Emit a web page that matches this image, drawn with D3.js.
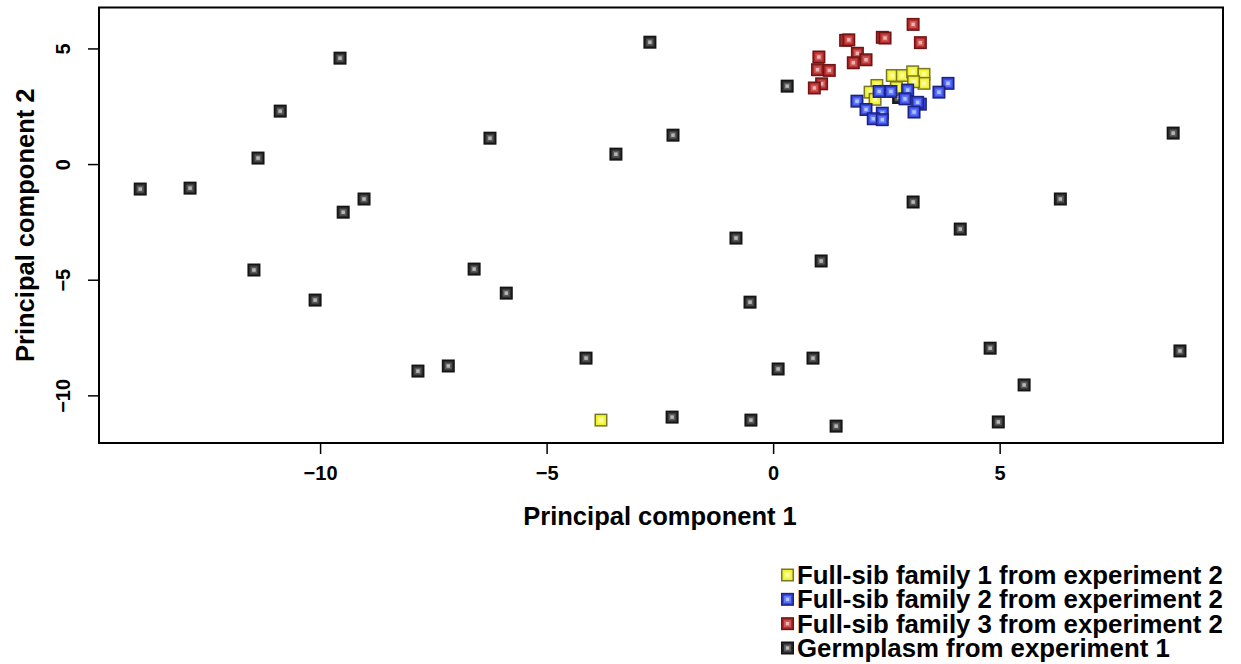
<!DOCTYPE html>
<html lang="en">
<head>
	<meta charset="UTF-8">
	<title>PCA scatter</title>
	<script src="https://cdn.jsdelivr.net/npm/d3@7"></script>
	<style>
		body { margin: 0; background: #fff; }
		text { font-family: "Liberation Sans", Arial, sans-serif; font-weight: bold; fill: #000; }
		.axis path { display: none; }
		.axis line { stroke: #000; stroke-width: 1.5; }
	</style>
</head>
<body>
	<div id="container"></div>
	<script>
		// germplasm from experiment 1
		var germPC1 = [-13.97, -12.87, -11.37, -10.88, -11.46, -10.11, -9.56, -9.49, -9.03, -7.84, -7.17, -6.60,
			-6.25, -5.89, -4.13, -3.47, -2.72, -2.21, -2.23, -0.82, -0.51, -0.49, 0.11, 0.31, 0.88, 1.06, 1.39,
			3.09, 4.13, 4.79, 4.97, 5.54, 6.34, 8.83, 8.98, 2.77];
		var germPC2 = [-1.08, -1.04, 0.26, 2.29, -4.58, -5.88, 4.58, -2.08, -1.51, -8.95, -8.73, -4.54,
			1.12, -5.58, -8.39, 0.43, 5.27, 1.25, -10.94, -3.20, -5.97, -11.07, -8.86, 3.37, -8.39, -4.19, -11.33,
			-1.64, -2.81, -7.96, -11.15, -9.55, -1.51, 1.34, -8.08, 2.88];

		// full-sib families from experiment 2
		var fam1PC1 = [-3.80, 2.63, 2.85, 3.08, 3.33, 3.33, 3.10, 2.29, 2.72, 2.14, 2.25];
		var fam1PC2 = [-11.07, 3.83, 3.83, 3.99, 3.88, 3.49, 3.56, 3.40, 3.31, 3.11, 2.80];

		var fam2PC1 = [3.86, 3.66, 2.34, 2.60, 2.97, 2.91, 3.25, 3.19, 1.85, 2.05, 2.41, 2.21, 2.41, 3.11];
		var fam2PC2 = [3.49, 3.11, 3.14, 3.14, 3.20, 2.82, 2.59, 2.67, 2.72, 2.36, 2.20, 1.96, 1.92, 2.25];

		var fam3PC1 = [3.09, 1.60, 1.67, 2.41, 2.47, 3.25, 1.01, 1.86, 2.05, 1.77, 0.98, 1.24, 1.07, 0.91];
		var fam3PC2 = [6.04, 5.35, 5.37, 5.48, 5.45, 5.25, 4.63, 4.79, 4.51, 4.38, 4.08, 4.05, 3.47, 3.29];

		var xTicks = [-10, -5, 0, 5];
		var yTicks = [-10, -5, 0, 5];

		var legendLabels = ["Full-sib family 1 from experiment 2", "Full-sib family 2 from experiment 2",
			"Full-sib family 3 from experiment 2", "Germplasm from experiment 1"];

		// square marker shades, outside -> centre
		var shades = {
			germ: ["#141414", "#2b2b2b", "#5a5a5a", "#b8b8b8"],
			fam1: ["#77772a", "#f2f22a", "#f8f858", "#fdfdb0"],
			fam2: ["#1c2280", "#3a48e0", "#5c78ff", "#b4c4ff"],
			fam3: ["#6e1414", "#b42a2a", "#cc5454", "#eab4b4"]
		};

		var width = 1241, height = 664;
		var pLeft = 99, pRight = 1223, pTop = 7.5, pBottom = 443;

		var svg = d3.select("#container").append("svg")
			.attr("width", width)
			.attr("height", height);

		var x = d3.scaleLinear().domain([-14.88, 9.93]).range([pLeft, pRight]);
		var y = d3.scaleLinear().domain([-12.06, 6.77]).range([pBottom, pTop]);

		var fmt = function(d){ return d < 0 ? "\u2212" + Math.abs(d) : d; };

		var xAxisG = svg.append("g").attr("class", "axis")
			.attr("transform", "translate(0," + pBottom + ")")
			.call(d3.axisBottom(x).tickValues(xTicks).tickSize(11).tickSizeOuter(0).tickPadding(12).tickFormat(fmt));
		xAxisG.selectAll("text").style("font-size", "20px");

		var yAxisG = svg.append("g").attr("class", "axis")
			.attr("transform", "translate(" + pLeft + ",0)")
			.call(d3.axisLeft(y).tickValues(yTicks).tickSize(11).tickSizeOuter(0).tickFormat(fmt));
		yAxisG.selectAll("text")
			.style("font-size", "20px")
			.attr("text-anchor", "middle")
			.attr("x", 0).attr("y", -29).attr("dy", 0)
			.attr("transform", "rotate(-90)");

		// plot box
		svg.append("rect")
			.attr("x", pLeft).attr("y", pTop)
			.attr("width", pRight - pLeft).attr("height", pBottom - pTop)
			.attr("fill", "none").attr("stroke", "#000").attr("stroke-width", 2);

		function marker(g, cx, cy, cols) {
			var sizes = [13, 10, 7, 3.5];
			for (var i = 0; i < cols.length; i++) {
				g.append("rect")
					.attr("x", cx - sizes[i] / 2).attr("y", cy - sizes[i] / 2)
					.attr("width", sizes[i]).attr("height", sizes[i])
					.attr("fill", cols[i]);
			}
		}

		function drawSeries(xs, ys, cols) {
			var g = svg.append("g");
			for (var i = 0; i < xs.length; i++) {
				marker(g, x(xs[i]), y(ys[i]), cols);
			}
		}

		drawSeries(germPC1, germPC2, shades.germ);
		drawSeries(fam1PC1, fam1PC2, shades.fam1);
		drawSeries(fam3PC1, fam3PC2, shades.fam3);
		drawSeries(fam2PC1, fam2PC2, shades.fam2);

		// axis titles
		svg.append("text")
			.attr("x", 660).attr("y", 525)
			.attr("text-anchor", "middle")
			.style("font-size", "25.5px")
			.text("Principal component 1");

		svg.append("text")
			.attr("transform", "translate(34," + ((pTop + pBottom) / 2) + ") rotate(-90)")
			.attr("text-anchor", "middle")
			.style("font-size", "25.5px")
			.text("Principal component 2");

		// legend
		var legCols = [shades.fam1, shades.fam2, shades.fam3, shades.germ];
		var legY = d3.scalePoint().domain(d3.range(4)).range([575, 648]);
		var leg = svg.append("g");
		legendLabels.forEach(function(lab, i) {
			marker(leg, 787.5, legY(i), legCols[i]);
			leg.append("text")
				.attr("x", 797).attr("y", legY(i) + 9)
				.style("font-size", "25.8px")
				.text(lab);
		});
	</script>
</body>
</html>
